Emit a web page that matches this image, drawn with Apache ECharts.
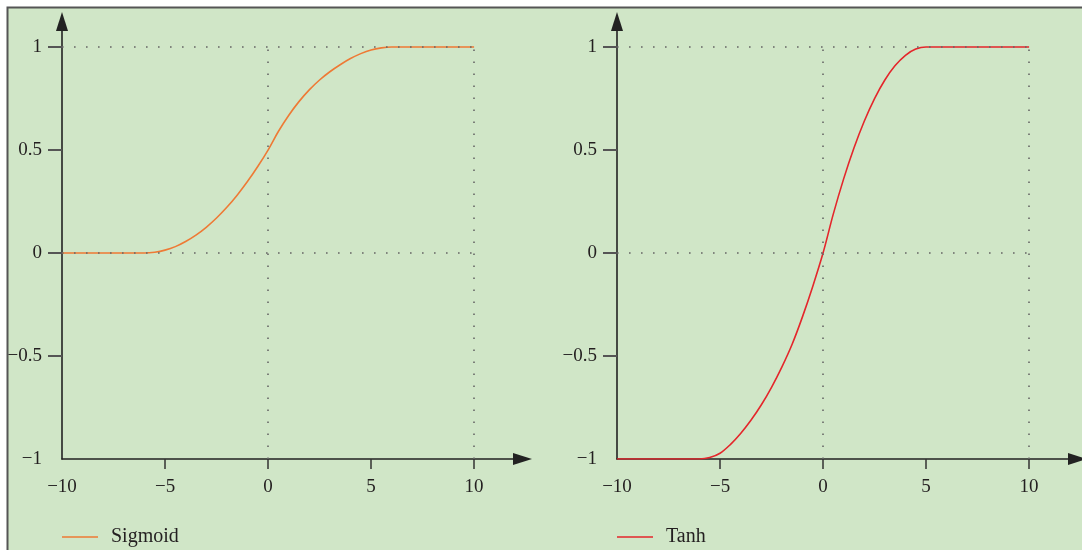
<!DOCTYPE html>
<html>
<head>
<meta charset="utf-8">
<title>Sigmoid and Tanh</title>
<script src="https://cdn.jsdelivr.net/npm/echarts@6/dist/echarts.min.js"></script>
<style>
  html, body { margin: 0; padding: 0; background: #ffffff; }
  #chart { width: 1082px; height: 550px; }
</style>
</head>
<body>
<div id="chart"></div>
<script>
// Sampled activation curves
const sigmoidX = [-10, -6, -5.5, -5, -4.5, -4, -3.5, -3, -2.5, -2, -1.5, -1, -0.5, 0, 0.5, 1, 1.5, 2, 2.5, 3, 3.5, 4, 4.5, 5, 5.5, 6, 10];
const sigmoidY = [0, 0, 0.004, 0.014, 0.031, 0.056, 0.087, 0.125, 0.17, 0.222, 0.281, 0.347, 0.42, 0.5, 0.59, 0.668, 0.735, 0.792, 0.84, 0.88, 0.914, 0.944, 0.968, 0.986, 0.996, 1, 1];

const tanhX = [-10, -6, -5.5, -5, -4.5, -4, -3.5, -3, -2.5, -2, -1.5, -1, -0.5, 0, 0.5, 1, 1.5, 2, 2.5, 3, 3.5, 4, 4.5, 5, 10];
const tanhY = [-1, -1, -0.993, -0.972, -0.93, -0.876, -0.812, -0.738, -0.652, -0.554, -0.443, -0.31, -0.162, 0, 0.19, 0.36, 0.51, 0.64, 0.75, 0.84, 0.91, 0.96, 0.99, 1, 1];

// Axis ticks and labels
const xLabelValues = [-10, -5, 0, 5, 10];
const xTickValues = [-5, 0, 5, 10];
const yLabelValues = [-1, -0.5, 0, 0.5, 1];
const yTickValues = [-0.5, 0, 0.5, 1];

// Dotted reference lines
const refX = [0, 10];
const refY = [0, 1];
const xRange = [-10, 10];
const yRange = [-1, 1];

const seriesNames = ['Sigmoid', 'Tanh'];
const seriesColors = ['#ee7a35', '#e4262b'];

const FONT = "'Liberation Serif', 'DejaVu Serif', serif";
const TEXT = '#231f20';

function pairs(xs, ys) { return xs.map((x, i) => [x, ys[i]]); }
function fmt(v) { return String(v).replace('-', '\u2212'); }

function refLines() {
  const d = [];
  refY.forEach(y => d.push([{ coord: [xRange[0], y] }, { coord: [xRange[1], y] }]));
  refX.forEach(x => d.push([{ coord: [x, yRange[0]] }, { coord: [x, yRange[1]] }]));
  return d;
}

function xAxis(gi) {
  return {
    type: 'value', gridIndex: gi, min: -10, max: 12.35, interval: 5,
    axisLine: { show: true, onZero: false, symbol: ['none', 'triangle'], symbolSize: [12, 19],
      lineStyle: { color: '#222', width: 1.6 } },
    axisTick: { show: true, customValues: xTickValues, length: 10,
      lineStyle: { color: '#333', width: 1.5 } },
    axisLabel: { customValues: xLabelValues, formatter: fmt, margin: 19,
      fontFamily: FONT, fontSize: 19, color: TEXT },
    splitLine: { show: false }
  };
}

function yAxis(gi) {
  return {
    type: 'value', gridIndex: gi, min: -1, max: 1.124, interval: 0.5,
    axisLine: { show: true, onZero: false, symbol: ['none', 'triangle'], symbolSize: [12, 19],
      lineStyle: { color: '#222', width: 1.6 } },
    axisTick: { show: true, customValues: yTickValues, length: 14,
      lineStyle: { color: '#555', width: 2 } },
    axisLabel: { customValues: yLabelValues, formatter: fmt, margin: 20,
      fontFamily: FONT, fontSize: 19, color: TEXT },
    splitLine: { show: false }
  };
}

function refSeries(gi) {
  return {
    type: 'line', xAxisIndex: gi, yAxisIndex: gi, data: [], z: 1, silent: true,
    markLine: {
      silent: true, symbol: 'none', label: { show: false },
      lineStyle: { color: '#666', width: 1.6, type: [1.6, 10.4] },
      data: refLines()
    }
  };
}

function curve(gi, name, xs, ys, color) {
  return {
    type: 'line', name: name, xAxisIndex: gi, yAxisIndex: gi,
    data: pairs(xs, ys), showSymbol: false, symbol: 'none',
    smooth: 0.35, z: 3,
    lineStyle: { color: color, width: 1.6 }, itemStyle: { color: color }
  };
}

function legend(name, left) {
  return {
    data: [name], left: left, top: 527, padding: 0, icon: 'rect',
    itemWidth: 36, itemHeight: 1.5,
    textStyle: { fontFamily: FONT, fontSize: 20, color: TEXT, padding: [0, 0, 0, 8] }
  };
}

const chart = echarts.init(document.getElementById('chart'), null, { renderer: 'canvas' });

chart.setOption({
  backgroundColor: '#ffffff',
  animation: false,
  graphic: [{
    type: 'rect', z: -10, silent: true,
    shape: { x: 7.5, y: 7.5, width: 1200, height: 700 },
    style: { fill: '#d0e6c7', stroke: '#555555', lineWidth: 2 }
  }],
  grid: [
    { left: 62, top: 21.5, width: 460.5, height: 437.5 },
    { left: 617, top: 21.5, width: 460.5, height: 437.5 }
  ],
  xAxis: [xAxis(0), xAxis(1)],
  yAxis: [yAxis(0), yAxis(1)],
  legend: [legend(seriesNames[0], 62), legend(seriesNames[1], 617)],
  series: [
    refSeries(0),
    refSeries(1),
    curve(0, seriesNames[0], sigmoidX, sigmoidY, seriesColors[0]),
    curve(1, seriesNames[1], tanhX, tanhY, seriesColors[1])
  ]
});
</script>
</body>
</html>
